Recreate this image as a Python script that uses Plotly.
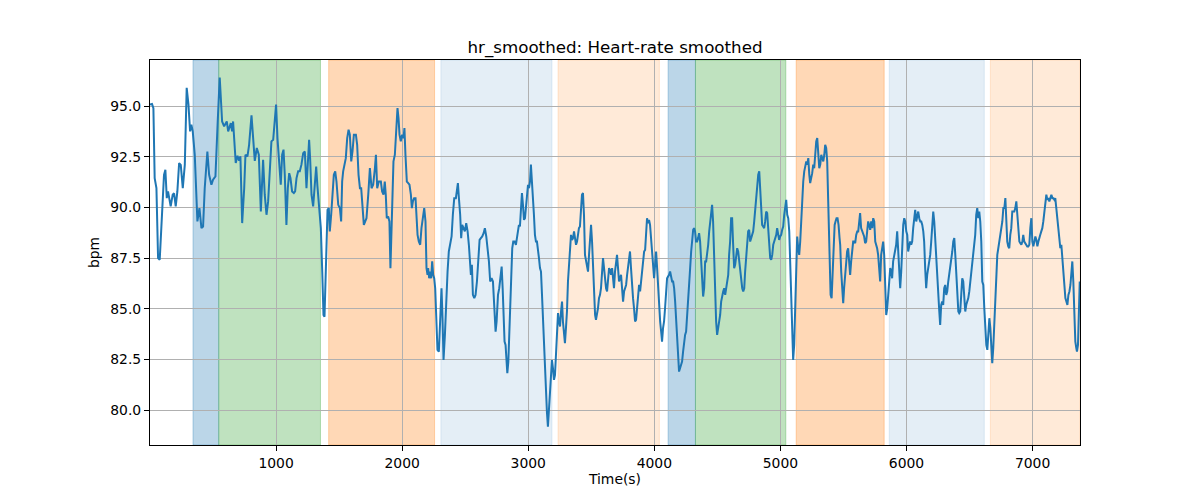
import plotly.graph_objects as go

# ---- data ----
t_sec = [0, 16, 27, 37, 51, 64, 77, 96, 111, 122, 133, 143, 154, 164, 180, 191, 204, 217, 231, 244,
         260, 276, 291, 305, 318, 328, 339, 355, 376, 392, 408, 421, 434, 455, 469, 487, 500, 519, 537, 553,
         572, 588, 609, 620, 641, 651, 659, 672, 680, 694, 707, 717, 731, 747, 757, 773, 786, 805, 823, 831,
         847, 863, 879, 897, 910,
         924, 937, 950, 963, 977, 990, 1000, 1011, 1024, 1037, 1048, 1059, 1069, 1082, 1093, 1104, 1114, 1127,
         1141, 1151, 1162, 1175, 1188, 1201, 1215, 1228, 1241, 1254, 1262, 1270, 1281, 1294, 1307, 1318, 1328,
         1339, 1355, 1366, 1376, 1384, 1392, 1400, 1408, 1418, 1426, 1437, 1448, 1458, 1469, 1479, 1493, 1506,
         1516, 1524, 1532, 1543, 1553, 1564, 1575, 1585, 1596, 1606, 1617, 1633, 1643, 1654, 1665, 1675, 1686,
         1696, 1707, 1717, 1731, 1744, 1757, 1770, 1784, 1792, 1802, 1815,
         1831, 1841, 1852, 1862, 1870, 1878, 1889, 1899, 1907, 1915, 1923, 1931, 1942, 1950, 1958, 1963, 1971,
         1979, 1989, 2000, 2011, 2018, 2026, 2037, 2048, 2058, 2069, 2077, 2085, 2095, 2106, 2114, 2122, 2132,
         2143, 2153, 2164, 2175, 2185, 2193, 2201, 2206, 2214, 2222, 2230, 2238, 2246, 2254, 2262, 2270, 2280,
         2291, 2302, 2312, 2320, 2328, 2339, 2349, 2360, 2370, 2381, 2392, 2402, 2413, 2426, 2434, 2442, 2450,
         2460, 2468, 2476, 2487, 2497, 2508, 2519, 2529, 2537, 2545, 2553, 2561, 2572, 2582, 2593, 2603, 2614,
         2624, 2635, 2646, 2656, 2667, 2677, 2688, 2698, 2709, 2720,
         2733, 2741, 2749, 2760, 2770, 2781, 2789, 2797, 2804, 2812, 2820, 2828, 2834, 2842, 2849, 2857, 2865,
         2873, 2881, 2892, 2902, 2910, 2918, 2926, 2934, 2942, 2950, 2958, 2966, 2974, 2982, 2990, 2998, 3006,
         3014, 3021, 3029, 3037, 3045, 3053, 3061, 3069, 3077, 3085, 3093, 3101, 3109, 3117, 3125, 3133, 3141,
         3148, 3156, 3164, 3172, 3180, 3188, 3196, 3204, 3212, 3220, 3228, 3236, 3244, 3252, 3260, 3268, 3275,
         3283, 3291, 3299, 3307, 3315, 3323, 3331, 3339, 3347, 3355, 3363, 3371, 3379, 3387, 3395, 3402, 3410,
         3418, 3426, 3434, 3442, 3450, 3458, 3466, 3474, 3482, 3490, 3498, 3506, 3514, 3522, 3530, 3537, 3545,
         3553, 3561, 3569, 3577, 3585, 3593, 3601, 3609, 3617, 3625, 3633, 3641,
         3649, 3657, 3665, 3673, 3680, 3688, 3696, 3704, 3712, 3720, 3728, 3736, 3744, 3752, 3760, 3768, 3776,
         3784, 3792, 3800, 3807, 3815, 3823, 3831, 3839, 3847, 3855, 3863, 3871, 3879, 3887, 3895, 3903, 3911,
         3919, 3927, 3934, 3942, 3950, 3958, 3966, 3974, 3982, 3990, 3998, 4006, 4014, 4022, 4030, 4038, 4046,
         4054, 4061, 4069, 4077, 4085, 4093, 4101, 4109, 4117, 4125, 4133, 4141, 4149, 4157, 4165, 4173, 4181,
         4188, 4196, 4204, 4212, 4220, 4228, 4236, 4244, 4252, 4260, 4268, 4276, 4284, 4292, 4300, 4308, 4315,
         4323, 4331, 4339, 4347, 4355, 4363, 4371, 4379, 4387, 4395, 4403, 4411, 4419, 4427, 4435, 4442, 4450,
         4458, 4466, 4474, 4482, 4490, 4498, 4506, 4514, 4522, 4530, 4538, 4546, 4554,
         4562, 4570, 4578, 4586, 4593, 4601, 4609, 4617, 4625, 4633, 4641, 4649, 4657, 4665, 4673, 4681, 4689,
         4697, 4705, 4713, 4720, 4728, 4736, 4744, 4752, 4760, 4768, 4776, 4784, 4792, 4800, 4808, 4816, 4824,
         4832, 4840, 4847, 4855, 4863, 4871, 4879, 4887, 4895, 4903, 4911, 4919, 4927, 4935, 4943, 4951, 4959,
         4967, 4974, 4982, 4990, 4998, 5006, 5014, 5022, 5030, 5038, 5046, 5054, 5062, 5070, 5078, 5086, 5094,
         5101, 5109, 5117, 5125, 5133, 5141, 5149, 5157, 5165, 5173, 5181, 5189, 5197, 5205, 5213, 5221, 5229,
         5236, 5244, 5252, 5260, 5268, 5276, 5284, 5292, 5300, 5308, 5316, 5324, 5332, 5340, 5348, 5355, 5363,
         5371, 5379, 5387, 5398, 5406, 5414, 5422, 5430, 5437, 5445, 5453, 5461, 5469,
         5474, 5482, 5490, 5498, 5505, 5513, 5521, 5529, 5537, 5545, 5553, 5561, 5569, 5577, 5585, 5593, 5601,
         5609, 5617, 5625, 5632, 5640, 5648, 5656, 5664, 5672, 5680, 5688, 5696, 5704, 5712, 5720, 5728, 5736,
         5744, 5752, 5759, 5767, 5775, 5783, 5791, 5799, 5807, 5815, 5823, 5831, 5839, 5847, 5855, 5863, 5871,
         5879, 5886, 5894, 5902, 5910, 5918, 5926, 5934, 5942, 5950, 5958, 5966, 5974, 5982, 5990, 5998, 6006,
         6013, 6021, 6029, 6037, 6045, 6053, 6061, 6069, 6077, 6085, 6093, 6101, 6109, 6117, 6125, 6133, 6140,
         6148, 6156, 6164, 6172, 6180, 6188, 6196, 6204, 6212, 6220, 6228, 6236, 6244, 6252, 6260, 6267, 6275,
         6283, 6291, 6299, 6307, 6315, 6323, 6331, 6339, 6347, 6355, 6363, 6371, 6379,
         6387, 6395, 6403, 6411, 6418, 6426, 6434, 6442, 6450, 6458, 6466, 6474, 6482, 6490, 6498, 6506, 6514,
         6522, 6530, 6538, 6545, 6553, 6561, 6569, 6577, 6585, 6593, 6601, 6609, 6617, 6625, 6633, 6641, 6649,
         6657, 6665, 6672, 6680, 6688, 6696, 6704, 6712, 6720, 6728, 6736, 6744, 6752, 6760, 6768, 6776, 6784,
         6792, 6799, 6807, 6815, 6823, 6831, 6839, 6847, 6855, 6863, 6871, 6879, 6887, 6895, 6903, 6911, 6919,
         6926, 6934, 6942, 6950, 6958, 6966, 6974, 6982, 6990, 6998, 7006, 7014, 7022, 7030, 7038, 7046, 7053,
         7061, 7069, 7077, 7085, 7093, 7101, 7109, 7117, 7125, 7133, 7141, 7149, 7157, 7165, 7173, 7180, 7188,
         7196, 7204, 7212, 7220, 7228, 7236, 7244, 7252, 7260, 7268, 7276, 7284, 7292, 7300, 7308, 7315, 7323,
         7331, 7339, 7347, 7352, 7360, 7368, 7374]

hr_bpm = [95.07, 95.1, 94.9, 91.45, 90.96, 87.5, 87.42, 90.13, 91.6, 91.86, 90.46, 90.79, 90.46, 90.05, 90.63,
          90.7, 90.05, 90.79, 92.19, 92.1, 90.95, 92.1, 95.9, 95.07, 93.75, 94.08, 93.75, 92.6, 89.31, 89.97,
          88.98, 89.06, 90.95, 92.76, 91.61, 91.12, 91.37, 91.53, 94.24, 96.41, 94.24, 94.0, 94.24, 93.75, 94.16,
          93.75, 94.24, 92.6, 92.19, 92.55, 92.3, 92.52, 89.23, 90.95, 92.6, 92.52, 93.09, 94.54, 92.6, 92.3,
          92.93, 92.6, 89.8, 92.35, 90.63,
          89.64, 90.3, 92.11, 93.26, 93.34, 94.24, 95.07, 93.42, 92.11, 91.12, 92.6, 92.85, 91.61, 89.14, 90.95,
          91.69, 91.45, 90.79, 90.71, 90.79, 91.45, 91.78, 91.78, 92.11, 92.68, 92.76, 90.95, 92.11, 93.34, 92.43,
          90.63, 90.05, 91.12, 92.02, 91.04, 90.13, 88.98, 86.84, 84.7, 84.62, 86.84, 88.98, 89.88, 89.97, 88.82,
          89.64, 90.46, 91.61, 91.78, 91.28, 90.13, 89.97, 89.31, 91.28, 91.78, 92.11, 92.43, 93.42, 93.83, 93.59,
          92.27, 92.76, 93.59, 93.59, 93.09, 91.61, 90.95, 90.95, 89.8, 89.14, 89.31, 89.47, 90.63, 91.94, 90.95,
          91.12, 91.94, 92.6, 90.95, 91.28,
          91.28, 90.79, 90.63, 91.28, 90.63, 89.47, 89.56, 89.31, 87.01, 88.98, 90.95, 92.27, 92.6, 93.59, 94.41,
          94.9, 94.41, 93.59, 93.26, 93.59, 93.42, 93.91, 92.6, 91.28, 91.2, 91.12, 90.63, 89.97, 90.3, 90.46,
          90.46, 89.31, 88.65, 88.32, 88.16, 88.98, 89.64, 89.97, 89.31, 87.01, 86.68, 87.01, 86.51, 86.84, 86.51,
          87.34, 86.68, 86.51, 86.02, 84.7, 82.98, 82.89, 85.03, 86.02, 84.54, 82.48, 83.72, 85.36, 86.84, 87.83,
          88.16, 88.57, 89.64, 90.46, 90.46, 90.79, 91.2, 90.46, 89.64, 88.49, 89.14, 88.98, 88.82, 89.23, 88.82,
          88.16, 87.01, 86.68, 87.17, 85.69, 85.53, 85.69, 86.35, 87.5, 88.4, 88.49, 88.57, 88.73, 88.98, 88.57,
          87.99, 87.34, 86.35, 86.51, 86.35,
          85.03, 83.88, 84.38, 85.69, 86.02, 86.68, 87.09, 86.02, 84.7, 83.39, 83.22, 82.07, 81.83, 82.4, 83.55,
          85.03, 86.84, 87.99, 88.32, 88.32, 88.16, 88.57, 88.82, 89.14, 89.06, 89.8, 90.71, 90.13, 89.39, 89.47,
          89.97, 90.63, 91.12, 90.95, 91.28, 92.11, 91.45, 90.63, 89.64, 88.65, 88.32, 88.32, 87.99, 87.5, 87.01,
          86.84, 85.69, 84.38, 83.88, 82.73, 81.25, 79.93, 79.19, 80.1, 81.25, 82.07, 82.48, 82.07, 81.5, 81.74,
          82.89, 83.88, 84.79, 84.38, 84.13, 84.87, 85.36, 84.38, 83.72, 83.31, 84.05, 84.87, 86.35, 87.34, 88.32,
          88.65, 88.4, 88.49, 88.82, 88.32, 88.16, 88.32, 88.82, 88.98, 89.06, 89.64, 90.63, 90.71, 89.64, 87.66,
          87.34, 87.17, 86.84, 87.66, 88.32, 89.14, 88.32, 87.01, 85.69, 84.7, 84.46, 84.7, 85.03, 85.53, 85.69,
          86.02, 87.01, 87.5, 87.01, 86.35, 86.02, 85.86, 86.35, 87.01,
          86.92, 86.68, 87.01, 86.35, 86.02, 86.84, 87.34, 87.66, 87.01, 86.35, 86.51, 86.68, 86.02, 85.36, 85.86,
          86.02, 86.18, 86.68, 87.17, 87.66, 87.83, 87.01, 86.02, 85.53, 85.03, 84.38, 84.46, 85.03, 86.02, 86.18,
          85.86, 86.35, 87.01, 87.34, 87.83, 87.91, 88.82, 89.47, 89.23, 89.39, 89.14, 88.49, 87.66, 86.84, 86.51,
          87.17, 87.83, 87.01, 86.02, 85.36, 84.38, 83.88, 83.39, 84.05, 84.38, 85.03, 86.02, 86.51, 86.6, 86.68,
          86.84, 86.51, 86.35, 86.35, 86.02, 85.36, 84.54, 83.55, 82.4, 81.91, 82.07, 82.32, 82.4, 82.89, 83.39,
          83.72, 83.88, 84.54, 85.2, 86.02, 87.01, 87.83, 88.49, 88.9, 88.98, 88.82, 88.32, 88.32, 88.49, 88.73,
          88.32, 87.34, 86.18, 85.61, 86.02, 87.34, 87.34, 87.66, 88.16, 88.82, 89.31, 89.8, 90.13, 89.31, 87.66,
          85.69, 84.38, 83.72, 84.05, 84.38, 84.7, 85.36, 85.69, 85.86, 86.02,
          85.69, 86.02, 86.35, 86.68, 87.66, 88.32, 89.47, 89.47, 88.16, 87.01, 87.17, 87.66, 87.99, 87.83, 87.34,
          86.68, 86.51, 86.02, 85.86, 86.02, 86.84, 87.66, 88.49, 88.82, 88.9, 88.32, 88.49, 88.65, 88.82, 89.31,
          89.97, 90.63, 91.12, 91.61, 91.78, 90.79, 89.64, 89.14, 89.06, 88.98, 89.31, 89.8, 89.72, 88.82, 87.99,
          87.5, 87.42, 87.66, 88.16, 88.32, 88.57, 88.65, 88.98, 88.65, 88.4, 88.57, 88.65, 88.9, 89.06, 89.64,
          89.97, 90.38, 89.64, 89.47, 88.82, 87.34, 85.69, 84.05, 82.48, 83.22, 85.03, 87.01, 88.57, 87.99, 87.66,
          88.32, 89.31, 90.63, 91.28, 91.78, 92.11, 92.27, 92.11, 92.43, 91.61, 91.2, 91.45, 91.69, 92.11, 91.94,
          92.6, 93.26, 93.42, 92.76, 91.94, 92.11, 92.6, 92.43, 92.27, 92.6, 93.09, 92.93, 92.27, 90.3, 87.66,
          85.69, 85.53, 87.01, 88.65, 89.14, 89.31, 89.47, 89.47, 89.14, 88.49,
          88.16, 86.84, 85.69, 85.28, 86.02, 86.68, 87.34, 87.83, 87.99, 87.5, 86.68, 87.34, 87.83, 88.32, 88.32,
          88.24, 88.65, 88.82, 88.82, 89.31, 89.72, 88.98, 88.82, 88.65, 88.57, 88.24, 88.32, 88.82, 89.31, 89.14,
          88.9, 89.31, 88.98, 89.47, 89.31, 88.32, 88.16, 87.99, 87.66, 87.01, 86.35, 87.66, 88.16, 88.32, 87.66,
          85.36, 84.7, 85.03, 85.69, 86.51, 87.01, 86.84, 86.51, 87.34, 87.66, 87.75, 88.16, 88.82, 87.99, 87.01,
          86.02, 86.84, 88.16, 89.14, 89.47, 89.31, 88.82, 88.65, 87.83, 88.16, 88.32, 88.16, 88.32, 88.98, 89.47,
          89.88, 89.31, 89.64, 89.8, 89.47, 89.31, 89.31, 89.14, 88.82, 88.32, 87.01, 86.02, 86.68, 87.01, 87.34,
          87.66, 88.32, 89.47, 89.8, 89.31, 88.32, 87.66, 87.01, 86.02, 84.87, 84.21, 85.2, 85.36, 85.2, 86.02,
          86.18, 85.69, 85.86, 86.35, 86.68, 87.01, 87.34, 87.83, 88.32, 88.49,
          87.66, 86.84, 86.02, 84.87, 84.79, 84.87, 85.69, 86.51, 86.35, 85.36, 84.87, 85.2, 85.36, 85.53, 85.86,
          86.35, 86.84, 87.17, 87.5, 87.99, 88.65, 89.64, 89.97, 89.47, 89.8, 89.31, 88.32, 86.35, 86.18, 85.03,
          83.88, 83.22, 82.98, 83.55, 84.54, 84.05, 83.06, 82.32, 83.06, 84.38, 85.69, 86.84, 87.66, 87.99, 88.32,
          88.65, 88.82, 89.31, 89.97, 89.97, 90.46, 89.31, 88.32, 88.08, 87.99, 88.65, 88.98, 89.8, 89.8, 89.8,
          89.97, 90.3, 89.64, 88.82, 88.32, 88.24, 88.16, 88.32, 88.65, 88.32, 88.24, 88.16, 88.08, 88.08, 88.16,
          88.98, 89.47, 88.32, 88.08, 88.32, 88.57, 88.4, 88.08, 88.32, 88.57, 88.65, 88.82, 88.98, 89.31, 89.8,
          90.3, 90.63, 90.38, 90.46, 90.3, 90.54, 90.63, 90.46, 90.46, 90.38, 90.46, 89.97, 89.47, 88.98, 88.32,
          87.99, 88.16, 87.5, 86.68, 86.02, 85.53, 85.36, 85.2, 85.69, 85.86, 86.18, 87.01, 87.34, 86.35, 85.03,
          83.39, 83.06, 82.89, 83.22, 85.69, 86.35]

# phase spans (seconds)
phase_start = [341, 545, 1417, 2307, 3236, 4109, 4326, 5125, 5863, 6665]
phase_end = [545, 1352, 2257, 3188, 4040, 4326, 5043, 5823, 6617, 7376]
phase_kind = ["a", "b", "c", "d", "e", "a", "b", "c", "d", "e"]

x_ticks = [1000, 2000, 3000, 4000, 5000, 6000, 7000]
y_ticks = [80.0, 82.5, 85.0, 87.5, 90.0, 92.5, 95.0]

# ---- styles ----
kind_color = {
    "a": "rgba(31,119,180,0.3)",
    "b": "rgba(44,160,44,0.3)",
    "c": "rgba(255,127,14,0.3)",
    "d": "rgba(31,119,180,0.12)",
    "e": "rgba(255,127,14,0.16)",
}

fig = go.Figure()
fig.add_trace(go.Scatter(x=t_sec, y=hr_bpm, mode="lines",
                         line=dict(color="#1f77b4", width=2), showlegend=False,
                         hoverinfo="skip"))

for s, e, k in zip(phase_start, phase_end, phase_kind):
    fig.add_shape(type="rect", xref="x", yref="paper", x0=s, x1=e, y0=0, y1=1,
                  fillcolor=kind_color[k], line=dict(color=kind_color[k], width=1),
                  layer="between")

font_family = "DejaVu Sans"
axis_common = dict(showline=True, linecolor="black", linewidth=1, mirror=True,
                   ticks="outside", ticklen=5, tickwidth=1, tickcolor="black",
                   showgrid=True, gridcolor="#b0b0b0", gridwidth=1, zeroline=False,
                   tickfont=dict(family=font_family, size=13.9, color="black"))

fig.update_layout(
    width=1200, height=500,
    margin=dict(l=150, r=120, t=60, b=55),
    paper_bgcolor="white", plot_bgcolor="white",
    font=dict(family=font_family, color="black"),
    title=dict(text="hr_smoothed: Heart-rate smoothed", x=0.5, xref="paper",
               y=1, yref="paper", yanchor="bottom", pad=dict(b=7),
               font=dict(family=font_family, size=16.7, color="black")),
    xaxis=dict(range=[0, 7376], tickvals=x_ticks,
               title=dict(text="Time(s)", font=dict(family=font_family, size=13.9), standoff=4),
               **axis_common),
    yaxis=dict(range=[78.29, 97.27], tickvals=y_ticks, tickformat=".1f",
               title=dict(text="bpm", font=dict(family=font_family, size=13.9), standoff=7),
               **axis_common),
)

fig.write_html("out.html", config={"displayModeBar": False},
               post_script="document.body.style.margin='0';")
